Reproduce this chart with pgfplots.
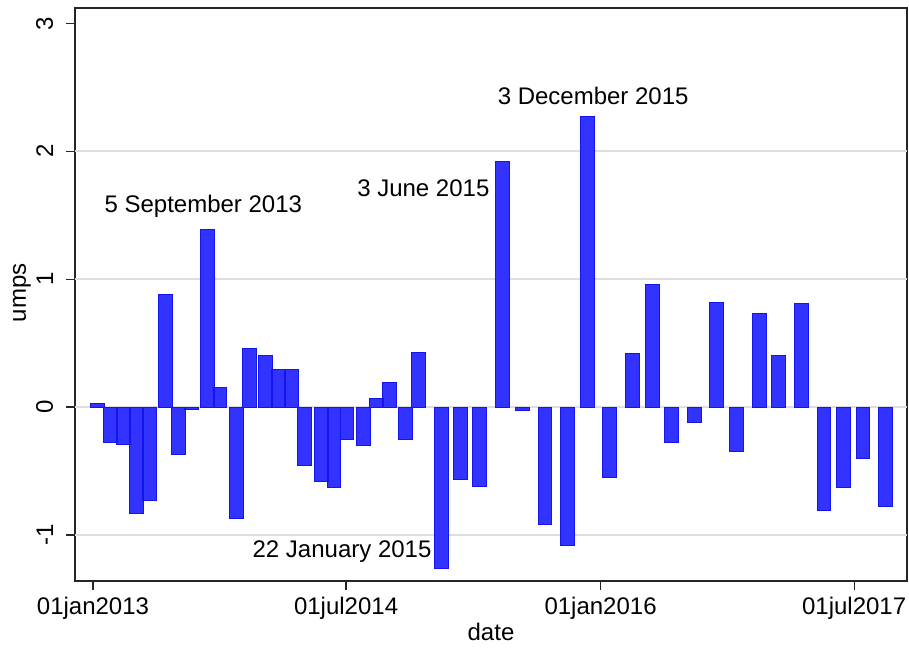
\documentclass[border=0pt]{standalone}
\usepackage{fontspec}
\setmainfont{Liberation Sans}
\usepackage{pgfplots}
\pgfplotsset{compat=1.18}
\usepackage{pgfplotstable}

\definecolor{barfill}{RGB}{51,51,255}
\definecolor{barline}{RGB}{20,20,240}
\definecolor{gridgray}{RGB}{222,222,222}

% days since 01jan2013, value
\pgfplotstableread{
day value
9 0.03
37 -0.28
65 -0.29
93 -0.83
121 -0.73
156 0.88
184 -0.37
212 -0.02
247 1.39
274 0.15
310 -0.87
338 0.46
373 0.40
401 0.29
429 0.29
457 -0.46
492 -0.58
520 -0.63
548 -0.25
583 -0.30
611 0.07
639 0.19
674 -0.25
702 0.43
751 -1.26
793 -0.57
834 -0.62
883 1.92
926 -0.03
975 -0.92
1024 -1.08
1066 2.27
1115 -0.55
1164 0.42
1206 0.96
1247 -0.28
1297 -0.12
1346 0.82
1388 -0.35
1437 0.73
1479 0.40
1528 0.81
1577 -0.81
1619 -0.63
1661 -0.40
1710 -0.78
}\umps

\begin{document}
\begin{tikzpicture}[font=\fontsize{12bp}{14bp}\selectfont]
\begin{axis}[
    scale only axis,
    width=416bp, height=286.5bp,
    xmin=-38.8, xmax=1756,
    ymin=-1.36, ymax=3.12,
    axis line style={line width=0.9bp, black!85},
    tick style={line width=0.6bp, black!85},
    tick align=outside,
    major tick length=4.5bp,
    xtick pos=lower, ytick pos=left,
    xtick={0,546,1095,1642},
    xticklabels={01jan2013,01jul2014,01jan2016,01jul2017},
    ytick={-1,0,1,2,3},
    yticklabels={-1,0,1,2,3},
    extra y ticks={-1,0,1,2},
    extra y tick labels={},
    extra y tick style={grid=major, major tick length=0pt},
    grid style={line width=0.8bp, gridgray},
    tick label style={font=\fontsize{12bp}{14bp}\selectfont},
    xticklabel style={anchor=north, inner sep=0pt},
    xticklabel shift=3.3bp,
    yticklabel style={rotate=90, anchor=south, inner sep=0pt},
    yticklabel shift=6.2bp,
    xlabel={date},
    ylabel={umps},
    label style={font=\fontsize{12bp}{14bp}\selectfont},
    xlabel style={at={(axis description cs:0.5,-0.089)}, anchor=center},
    ylabel style={at={(axis description cs:-0.0637,0.503)}, anchor=center},
    ybar, bar width=30,
    clip=false,
]
\addplot[fill=barfill, draw=barline, line width=0.5bp] table[x=day, y=value] {\umps};

\node[anchor=base, inner sep=0pt] at (axis cs:238,1.52) {5 September 2013};
\node[anchor=base east, inner sep=0pt] at (axis cs:856,1.646) {3 June 2015};
\node[anchor=base, inner sep=0pt] at (axis cs:1079,2.363) {3 December 2015};
\node[anchor=base east, inner sep=0pt] at (axis cs:731,-1.176) {22 January 2015};
\end{axis}
\path (-37.5bp,-32bp) rectangle (417bp,290.5bp);
\end{tikzpicture}
\end{document}
